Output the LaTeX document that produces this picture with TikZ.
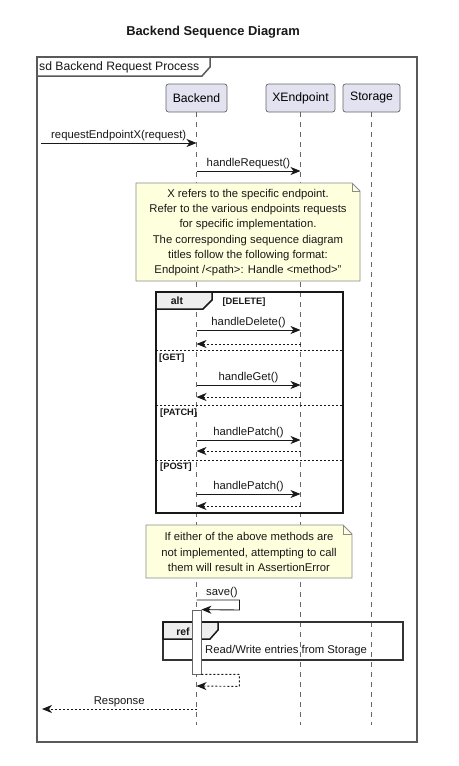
\documentclass[tikz,border=0pt]{standalone}
\usepackage{fontspec}
\setmainfont{Liberation Sans}
\usetikzlibrary{arrows.meta,calc}
\definecolor{partfill}{HTML}{E2E2F0}
\definecolor{notefill}{HTML}{FEFFDD}
\definecolor{tabfill}{HTML}{EEEEEE}
\definecolor{ink}{HTML}{181818}
\begin{document}
\begin{tikzpicture}[x=1pt,y=-1pt,
  participant/.style={draw=black!60, fill=partfill, rounded corners=2.5pt, line width=0.7pt,
    minimum height=28pt, inner sep=0pt, font=\fontsize{12.2}{14}\selectfont},
  lifeline/.style={draw=black!60, line width=0.6pt, dash pattern=on 5pt off 5pt},
  msg/.style={draw=ink, line width=0.9pt, -{Stealth[length=10pt,width=8pt,inset=3pt]}},
  ret/.style={msg, dash pattern=on 2pt off 2pt},
  lbl/.style={font=\fontsize{11.3}{13}\selectfont, inner sep=0pt, anchor=base, text=ink},
  notebox/.style={draw=black!45, fill=notefill, line width=0.8pt},
  notetext/.style={font=\fontsize{11.3}{15.3}\selectfont, align=center, inner sep=0pt, text=ink},
  outerframe/.style={draw=black!65, line width=1.5pt},
  grpframe/.style={draw=ink, line width=1.7pt},
  tabshape/.style={draw=ink, fill=tabfill, line width=1.5pt},
  tablbl/.style={font=\bfseries\fontsize{10.5}{12}\selectfont, inner sep=0pt, text=ink},
  guard/.style={font=\bfseries\fontsize{9.3}{11}\selectfont, inner sep=0pt, text=ink},
  sepline/.style={draw=ink, line width=0.7pt, dash pattern=on 2pt off 2pt},
  actbar/.style={draw=black!60, fill=white, line width=0.8pt, minimum width=9pt, minimum height=64pt, inner sep=0pt}
]
\useasboundingbox (0,0) rectangle (458,766);
\fill[white] (0,0) rectangle (458,766);

% title
\node[font=\bfseries\fontsize{12.9}{15}\selectfont, text=ink] (title) at (213,32) {Backend Sequence Diagram};

% outer frame
\draw[outerframe] (37,57) rectangle (417,742);
\draw[outerframe] (37,76) -- (202,76) -- (210,67) -- (210,57);
\node[anchor=west, inner sep=0pt, font=\fontsize{12.2}{14}\selectfont, text=ink] (sd) at (39,67) {sd Backend Request Process};

% participants
\node[participant, minimum width=61pt] (B) at (196.5,98) {Backend};
\node[participant, minimum width=69pt] (X) at (300.5,98) {XEndpoint};
\node[participant, minimum width=57pt] (S) at (371.5,98) {Storage};

% lifelines
\draw[lifeline] (B.south) -- (B |- 0,725);
\draw[lifeline] (X.south) -- (X |- 0,725);
\draw[lifeline] (S.south) -- (S |- 0,725);

% free ends
\coordinate (entry) at (41,143);
\coordinate (exit) at (42,709);

% messages
\draw[msg] (entry) -- (B |- 0,143) node[lbl, midway, yshift=5pt] {requestEndpointX(request)};
\draw[msg] (B |- 0,171) -- (X |- 0,171) node[lbl, midway, yshift=5pt] {handleRequest()};

% note 1
\draw[notebox] (136,183) -- (352,183) -- (360,191) -- (360,281) -- (136,281) -- cycle;
\draw[draw=black!45, line width=0.8pt] (352,183) -- (352,191) -- (360,191);
\node[notetext] (n1) at (248,232.5) {X refers to the specific endpoint.\\Refer to the various endpoints requests\\for specific implementation.\\The corresponding sequence diagram\\titles follow the following format:\\Endpoint /<path>: Handle <method>\symbol{"22}};

% alt group
\draw[grpframe] (156,292) rectangle (343,513);
\draw[tabshape] (156,292) -- (212,292) -- (212,300) -- (203,309) -- (156,309) -- cycle;
\node[tablbl] (alt) at (177,301) {alt};
\node[guard] (gdel) at (244,302) {[DELETE]};

\draw[msg] (B |- 0,330) -- (X |- 0,330) node[lbl, midway, yshift=5pt] {handleDelete()};
\draw[ret] (X |- 0,344) -- (B |- 0,344);
\draw[sepline] (156,350) -- (343,350);
\node[guard, anchor=west] (gget) at (159,358) {[GET]};

\draw[msg] (B |- 0,385) -- (X |- 0,385) node[lbl, midway, yshift=5pt] {handleGet()};
\draw[ret] (X |- 0,397) -- (B |- 0,397);
\draw[sepline] (156,405) -- (343,405);
\node[guard, anchor=west] (gpatch) at (160,413) {[PATCH]};

\draw[msg] (B |- 0,440) -- (X |- 0,440) node[lbl, midway, yshift=5pt] {handlePatch()};
\draw[ret] (X |- 0,451) -- (B |- 0,451);
\draw[sepline] (156,460) -- (343,460);
\node[guard, anchor=west] (gpost) at (160,467) {[POST]};

\draw[msg] (B |- 0,494) -- (X |- 0,494) node[lbl, midway, yshift=5pt] {handlePatch()};
\draw[ret] (X |- 0,506) -- (B |- 0,506);

% note 2
\draw[notebox] (146,525) -- (343,525) -- (352,534) -- (352,578) -- (146,578) -- cycle;
\draw[draw=black!45, line width=0.8pt] (343,525) -- (343,534) -- (352,534);
\node[notetext] (n2) at (249,552) {If either of the above methods are\\not implemented, attempting to call\\them will result in AssertionError};

% ref group
\draw[grpframe, draw=black!80, line width=1.5pt] (163,622) rectangle (403,660);
\draw[tabshape] (163,622) -- (218,622) -- (218,630) -- (210,639) -- (163,639) -- cycle;
\node[tablbl] (ref) at (183,632) {ref};
\node[lbl, anchor=west] (reftxt) at (205,651) {Read/Write entries from Storage};

% activation bar and self messages
\node[actbar] (act) at (196.5,642) {};
\draw[msg] (B |- 0,600) -- ++(43,0) -- ++(0,10) -- (act.north east);
\node[lbl, anchor=base west] (savelbl) at (206,595) {save()};
\draw[ret] (act.south east) -- ++(38,0) -- ++(0,12) -- (B |- 0,686);

% response
\draw[ret] (B |- 0,709) -- (exit) node[lbl, midway, yshift=5pt] {Response};
\end{tikzpicture}
\end{document}
